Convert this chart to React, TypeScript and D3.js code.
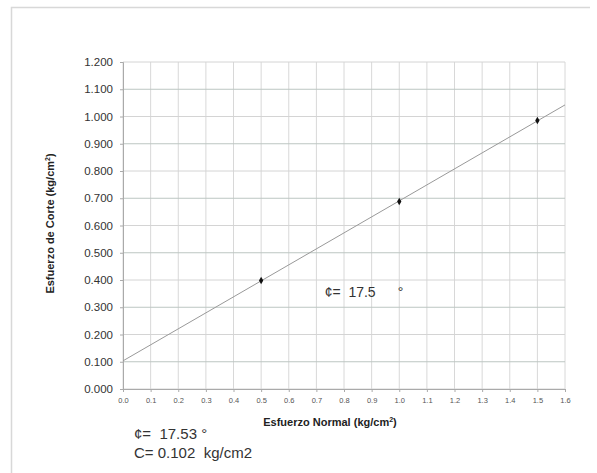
import { useRef, useEffect } from 'react';
import * as d3 from 'd3';

const normalStress = [0.5, 1.0, 1.5];
const shearStress = [0.398, 0.688, 0.985];
const xTicks = [0, 0.1, 0.2, 0.3, 0.4, 0.5, 0.6, 0.7, 0.8, 0.9, 1.0, 1.1, 1.2, 1.3, 1.4, 1.5, 1.6];
const yTicks = [0, 0.1, 0.2, 0.3, 0.4, 0.5, 0.6, 0.7, 0.8, 0.9, 1.0, 1.1, 1.2];
const phiLabel = '¢=  17.5';
const phiText = '¢=  17.53 °';
const cohesionText = 'C= 0.102  kg/cm2';

export default function App() {
  const svgRef = useRef<SVGSVGElement>(null);
  const width = 597;
  const height = 473;
  const margin = { top: 62, right: 32, bottom: 84, left: 123 };
  const innerW = width - margin.left - margin.right;
  const innerH = height - margin.top - margin.bottom;
  const font = 'Liberation Sans, Arial, sans-serif';

  useEffect(() => {
    if (!svgRef.current) return;
    const svg = d3.select(svgRef.current);
    svg.selectAll('*').remove();

    const x = d3.scaleLinear().domain([0, 1.6]).range([0, innerW]);
    const y = d3.scaleLinear().domain([0, 1.2]).range([innerH, 0]);

    // outer frame of the scanned sheet
    svg.append('path')
      .attr('d', `M11.5,${height} V7.5 H590`)
      .attr('fill', 'none')
      .attr('stroke', '#d8d8d8')
      .attr('stroke-width', 1.5);

    const g = svg.append('g').attr('transform', `translate(${margin.left},${margin.top})`);

    // grid
    g.append('g')
      .selectAll('line')
      .data(xTicks)
      .join('line')
      .attr('x1', (d) => x(d)).attr('x2', (d) => x(d))
      .attr('y1', 0).attr('y2', innerH)
      .attr('stroke', '#d8d8d8')
      .attr('stroke-width', 1);

    g.append('g')
      .selectAll('line')
      .data(yTicks)
      .join('line')
      .attr('x1', 0).attr('x2', innerW)
      .attr('y1', (d) => y(d)).attr('y2', (d) => y(d))
      .attr('stroke', (d, i) => (i % 2 === 1 ? '#bcc6c2' : '#d4d4d4'))
      .attr('stroke-width', 1);

    // axes
    g.append('g')
      .call(d3.axisLeft(y).tickValues(yTicks).tickFormat(d3.format('.3f')).tickSize(3).tickPadding(7))
      .call((a) => {
        a.selectAll('text').attr('fill', '#333').attr('font-size', '11.5px').attr('font-family', font);
        a.selectAll('.domain, line').attr('stroke', '#aaa');
      });

    g.append('g')
      .attr('transform', `translate(0,${innerH})`)
      .call(d3.axisBottom(x).tickValues(xTicks).tickFormat(d3.format('.1f')).tickSize(3).tickPadding(6))
      .call((a) => {
        a.selectAll('text').attr('fill', '#555').attr('font-size', '7.5px').attr('font-family', font);
        a.selectAll('.domain, line').attr('stroke', '#aaa');
      });

    // least squares trend line of the data points
    const mx = d3.mean(normalStress) as number;
    const my = d3.mean(shearStress) as number;
    const slope = d3.sum(normalStress, (v, i) => (v - mx) * (shearStress[i] - my)) /
      d3.sum(normalStress, (v) => (v - mx) ** 2);
    const intercept = my - slope * mx;
    const trend = d3.line<number>().x((d) => x(d)).y((d) => y(intercept + slope * d));
    g.append('path')
      .datum(x.domain())
      .attr('fill', 'none')
      .attr('stroke', '#999')
      .attr('stroke-width', 1)
      .attr('d', trend);

    // points
    g.append('g')
      .selectAll('path')
      .data(normalStress)
      .join('path')
      .attr('transform', (d, i) => `translate(${x(d)},${y(shearStress[i])})`)
      .attr('d', d3.symbol(d3.symbolDiamond, 16)())
      .attr('fill', '#111');

    // annotation on the plot
    g.append('text')
      .attr('x', x(0.73))
      .attr('y', y(0.338))
      .attr('font-size', '14px')
      .attr('fill', '#333')
      .attr('font-family', font)
      .attr('xml:space', 'preserve')
      .text(phiLabel);
    g.append('text')
      .attr('x', x(0.995))
      .attr('y', y(0.338))
      .attr('font-size', '14px')
      .attr('fill', '#333')
      .attr('font-family', font)
      .text('°');

    // axis titles
    svg.append('text')
      .attr('transform', `translate(54,${margin.top + innerH / 2 - 2}) rotate(-90)`)
      .attr('text-anchor', 'middle')
      .attr('font-size', '11px')
      .attr('font-weight', 'bold')
      .attr('fill', '#222')
      .attr('font-family', font)
      .html('Esfuerzo de Corte (kg/cm<tspan font-size="7px" dy="-4">2</tspan><tspan dy="4">)</tspan>');

    svg.append('text')
      .attr('x', 330)
      .attr('y', 426)
      .attr('text-anchor', 'middle')
      .attr('font-size', '11px')
      .attr('font-weight', 'bold')
      .attr('fill', '#222')
      .attr('font-family', font)
      .html('Esfuerzo Normal (kg/cm<tspan font-size="7px" dy="-4">2</tspan><tspan dy="4">)</tspan>');

    // results
    svg.append('text')
      .attr('x', 134)
      .attr('y', 439)
      .attr('font-size', '15px')
      .attr('fill', '#333')
      .attr('font-family', font)
      .attr('xml:space', 'preserve')
      .text(phiText);
    svg.append('text')
      .attr('x', 134)
      .attr('y', 458)
      .attr('font-size', '15px')
      .attr('fill', '#333')
      .attr('font-family', font)
      .attr('xml:space', 'preserve')
      .text(cohesionText);
  }, []);

  return (
    <svg
      ref={svgRef}
      width={width}
      height={height}
      style={{ position: 'absolute', left: 0, top: 0, display: 'block', background: '#fff' }}
    />
  );
}
